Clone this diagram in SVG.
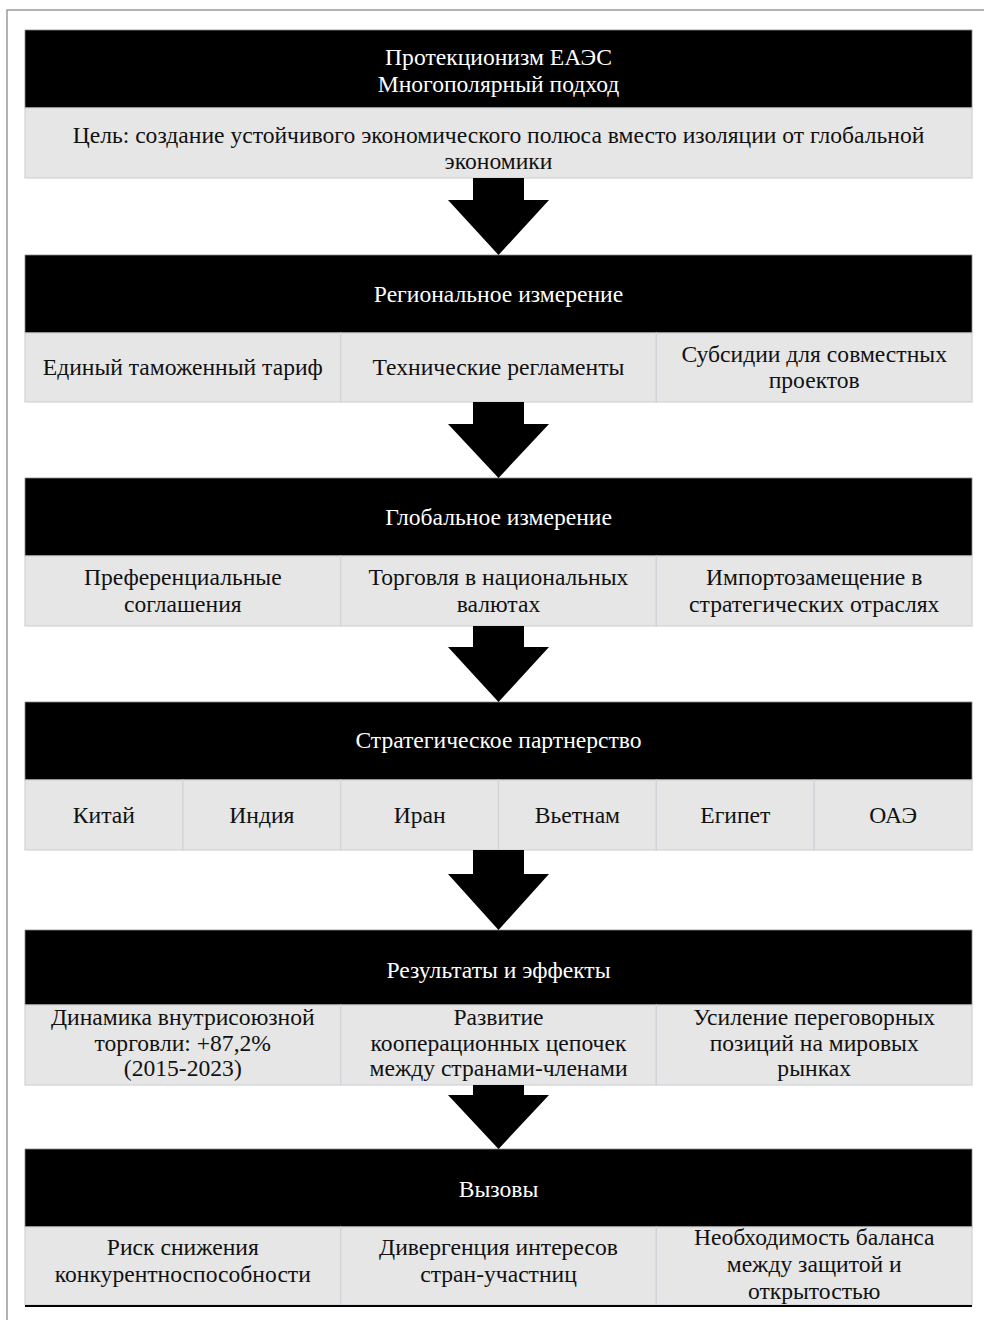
<svg xmlns="http://www.w3.org/2000/svg" width="984" height="1320" viewBox="0 0 984 1320">
<style>
.frame{fill:#fff;stroke:#9a9a9a;stroke-width:1.5}
.hd{fill:#000;stroke:#8a8a8a;stroke-width:0.8}
.cell{fill:#e6e6e6;stroke:#cfd3d8;stroke-width:1.2}
.ht{font-family:"Liberation Serif","Times New Roman",serif;font-size:23.6px;fill:#fff;text-anchor:middle}
.ct{font-family:"Liberation Serif","Times New Roman",serif;font-size:23.6px;fill:#111;text-anchor:middle}
.arr{fill:#000}
</style>
<rect class="frame" x="7" y="10" width="990" height="1330"/>

<g id="sec1">
<rect class="hd" x="25" y="30" width="947" height="78"/>
<text class="ht" x="498.5" y="65">Протекционизм ЕАЭС</text>
<text class="ht" x="498.5" y="92">Многополярный подход</text>
<rect class="cell" x="25" y="108" width="947" height="70"/>
<text class="ct" x="498.5" y="143">Цель: создание устойчивого экономического полюса вместо изоляции от глобальной</text>
<text class="ct" x="498.5" y="169">экономики</text>
</g>

<g id="sec2">
<rect class="hd" x="25" y="255" width="947" height="78"/>
<text class="ht" x="498.5" y="302">Региональное измерение</text>
<rect class="cell" x="25" y="333" width="315.7" height="69"/>
<rect class="cell" x="340.7" y="333" width="315.6" height="69"/>
<rect class="cell" x="656.3" y="333" width="315.7" height="69"/>
<text class="ct" x="182.8" y="375">Единый таможенный тариф</text>
<text class="ct" x="498.5" y="375">Технические регламенты</text>
<text class="ct" x="814.2" y="362">Субсидии для совместных</text>
<text class="ct" x="814.2" y="388">проектов</text>
</g>

<g id="sec3">
<rect class="hd" x="25" y="478" width="947" height="78"/>
<text class="ht" x="498.5" y="525">Глобальное измерение</text>
<rect class="cell" x="25" y="556" width="315.7" height="70"/>
<rect class="cell" x="340.7" y="556" width="315.6" height="70"/>
<rect class="cell" x="656.3" y="556" width="315.7" height="70"/>
<text class="ct" x="182.8" y="585">Преференциальные</text>
<text class="ct" x="182.8" y="612">соглашения</text>
<text class="ct" x="498.5" y="585">Торговля в национальных</text>
<text class="ct" x="498.5" y="612">валютах</text>
<text class="ct" x="814.2" y="585">Импортозамещение в</text>
<text class="ct" x="814.2" y="612">стратегических отраслях</text>
</g>

<g id="sec4">
<rect class="hd" x="25" y="702" width="947" height="78"/>
<text class="ht" x="498.5" y="748">Стратегическое партнерство</text>
<rect class="cell" x="25" y="780" width="157.8" height="70"/>
<rect class="cell" x="182.8" y="780" width="157.9" height="70"/>
<rect class="cell" x="340.7" y="780" width="157.8" height="70"/>
<rect class="cell" x="498.5" y="780" width="157.8" height="70"/>
<rect class="cell" x="656.3" y="780" width="157.9" height="70"/>
<rect class="cell" x="814.2" y="780" width="157.8" height="70"/>
<text class="ct" x="103.9" y="823">Китай</text>
<text class="ct" x="261.8" y="823">Индия</text>
<text class="ct" x="419.6" y="823">Иран</text>
<text class="ct" x="577.4" y="823">Вьетнам</text>
<text class="ct" x="735.3" y="823">Египет</text>
<text class="ct" x="893.1" y="823">ОАЭ</text>
</g>

<g id="sec5">
<rect class="hd" x="25" y="930" width="947" height="75"/>
<text class="ht" x="498.5" y="978">Результаты и эффекты</text>
<rect class="cell" x="25" y="1005" width="315.7" height="80"/>
<rect class="cell" x="340.7" y="1005" width="315.6" height="80"/>
<rect class="cell" x="656.3" y="1005" width="315.7" height="80"/>
<text class="ct" x="182.8" y="1025">Динамика внутрисоюзной</text>
<text class="ct" x="182.8" y="1051">торговли: +87,2%</text>
<text class="ct" x="182.8" y="1076">(2015-2023)</text>
<text class="ct" x="498.5" y="1025">Развитие</text>
<text class="ct" x="498.5" y="1051">кооперационных цепочек</text>
<text class="ct" x="498.5" y="1076">между странами-членами</text>
<text class="ct" x="814.2" y="1025">Усиление переговорных</text>
<text class="ct" x="814.2" y="1051">позиций на мировых</text>
<text class="ct" x="814.2" y="1076">рынках</text>
</g>

<g id="sec6">
<rect class="hd" x="25" y="1149" width="947" height="78"/>
<text class="ht" x="498.5" y="1197">Вызовы</text>
<rect class="cell" x="25" y="1227" width="315.7" height="78"/>
<rect class="cell" x="340.7" y="1227" width="315.6" height="78"/>
<rect class="cell" x="656.3" y="1227" width="315.7" height="78"/>
<text class="ct" x="182.8" y="1255">Риск снижения</text>
<text class="ct" x="182.8" y="1282">конкурентноспособности</text>
<text class="ct" x="498.5" y="1255">Дивергенция интересов</text>
<text class="ct" x="498.5" y="1282">стран-участниц</text>
<text class="ct" x="814.2" y="1245">Необходимость баланса</text>
<text class="ct" x="814.2" y="1272">между защитой и</text>
<text class="ct" x="814.2" y="1299">открытостью</text>
<rect x="25" y="1305" width="947" height="2" fill="#000"/>
</g>

<g id="connectors">
<polygon class="arr" points="473,178 524,178 524,200 549,200 498.5,255 448,200 473,200"/>
<polygon class="arr" points="473,402 524,402 524,424 549,424 498.5,478 448,424 473,424"/>
<polygon class="arr" points="473,626 524,626 524,647 549,647 498.5,702 448,647 473,647"/>
<polygon class="arr" points="473,850 524,850 524,874 549,874 498.5,930 448,874 473,874"/>
<polygon class="arr" points="473,1085 524,1085 524,1095 549,1095 498.5,1149 448,1095 473,1095"/>
</g>
</svg>
